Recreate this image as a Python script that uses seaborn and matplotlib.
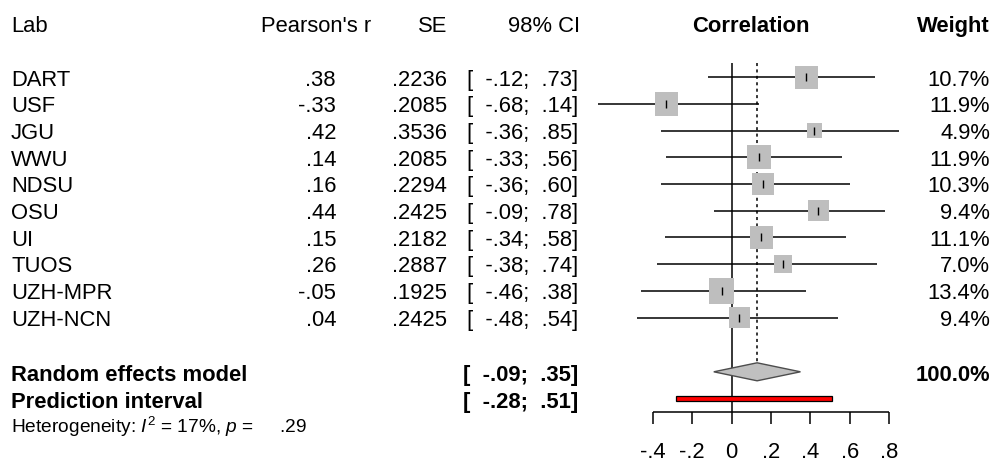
import numpy as np
import pandas as pd
import matplotlib
matplotlib.use("Agg")
import matplotlib.pyplot as plt
import seaborn as sns

# ---- study data -------------------------------------------------------
labs = ["DART", "USF", "JGU", "WWU", "NDSU", "OSU", "UI", "TUOS", "UZH-MPR", "UZH-NCN"]
r_vals = [0.38, -0.33, 0.42, 0.14, 0.16, 0.44, 0.15, 0.26, -0.05, 0.04]
se_vals = [0.2236, 0.2085, 0.3536, 0.2085, 0.2294, 0.2425, 0.2182, 0.2887, 0.1925, 0.2425]
ci_lo = [-0.12, -0.68, -0.36, -0.33, -0.36, -0.09, -0.34, -0.38, -0.46, -0.48]
ci_hi = [0.73, 0.14, 0.85, 0.56, 0.60, 0.78, 0.58, 0.74, 0.38, 0.54]
weights = [10.7, 11.9, 4.9, 11.9, 10.3, 9.4, 11.1, 7.0, 13.4, 9.4]

# ---- pooled results ---------------------------------------------------
re_est = 0.13
re_lo, re_hi = -0.09, 0.35
pi_lo, pi_hi = -0.28, 0.51
i2_text = "17%"
p_text = ".29"

x_ticks = [-0.4, -0.2, 0.0, 0.2, 0.4, 0.6, 0.8]
x_tick_labels = ["-.4", "-.2", "0", ".2", ".4", ".6", ".8"]

columns = ["Lab", "Pearson's r", "SE", "98% CI", "Correlation", "Weight"]


def fmt_r(v):
    s = f"{v:.2f}"
    return s.replace("0.", ".", 1)


def fmt_ci(lo, hi):
    return f"[  {fmt_r(lo)};  {fmt_r(hi)}]"


df = pd.DataFrame({
    "lab": labs, "r": r_vals, "se": se_vals,
    "lo": ci_lo, "hi": ci_hi, "w": weights,
})
df["row"] = np.arange(len(df))

# ---- figure -----------------------------------------------------------
sns.set_theme(style="white")
plt.rcParams["font.family"] = ["Liberation Sans", "DejaVu Sans"]
plt.rcParams["mathtext.fontset"] = "custom"
plt.rcParams["mathtext.rm"] = "Liberation Sans"
plt.rcParams["mathtext.it"] = "Liberation Sans:italic"
plt.rcParams["mathtext.bf"] = "Liberation Sans:bold"

W, H, DPI = 996, 463, 100
fig = plt.figure(figsize=(W / DPI, H / DPI), dpi=DPI)
ax = fig.add_axes([0, 0, 1, 1])

# correlation scale: 0 sits at x=731.5 px, 197 px per unit; rows 26.7 px apart
X0, XS = 731.5, 197.0
Y0, YS = 77.3, 26.7
ax.set_xlim(-X0 / XS, (W - X0) / XS)
ax.set_ylim((H - Y0) / YS, -Y0 / YS)
ax.axis("off")


def px(xp):
    """Horizontal pixel position expressed in correlation units."""
    return (xp - X0) / XS


FS = 15.8
FS_SMALL = 13.8
text_kw = dict(fontsize=FS, color="black")

# ---- header -----------------------------------------------------------
hy = -1.71
ax.text(px(11), hy, columns[0], ha="left", va="baseline", **text_kw)
ax.text(px(371), hy, columns[1], ha="right", va="baseline", **text_kw)
ax.text(px(447), hy, columns[2], ha="right", va="baseline", **text_kw)
ax.text(px(580), hy, columns[3], ha="right", va="baseline", **text_kw)
ax.text(px(751), hy, columns[4], ha="center", va="baseline", fontweight="bold", **text_kw)
ax.text(px(990), hy, columns[5], ha="right", va="baseline", fontweight="bold", **text_kw)

# ---- study rows text --------------------------------------------------
for _, row in df.iterrows():
    yb = row["row"] + 0.31
    ax.text(px(11), yb, row["lab"], ha="left", va="baseline", **text_kw)
    ax.text(px(336), yb, fmt_r(row["r"]), ha="right", va="baseline", **text_kw)
    ax.text(px(447), yb, f"{row['se']:.4f}".replace("0.", ".", 1),
            ha="right", va="baseline", **text_kw)
    ax.text(px(578), yb, fmt_ci(row["lo"], row["hi"]), ha="right", va="baseline", **text_kw)
    ax.text(px(990), yb, f"{row['w']:.1f}%", ha="right", va="baseline", **text_kw)

# ---- pooled rows text -------------------------------------------------
re_row, pi_row = 11.03, 12.02
ax.text(px(11), 11.38, "Random effects model", ha="left", va="baseline",
        fontweight="bold", **text_kw)
ax.text(px(578), 11.38, fmt_ci(re_lo, re_hi), ha="right", va="baseline",
        fontweight="bold", **text_kw)
ax.text(px(990), 11.38, f"{sum(weights):.1f}%", ha="right", va="baseline",
        fontweight="bold", **text_kw)
ax.text(px(11), 12.40, "Prediction interval", ha="left", va="baseline",
        fontweight="bold", **text_kw)
ax.text(px(578), 12.40, fmt_ci(pi_lo, pi_hi), ha="right", va="baseline",
        fontweight="bold", **text_kw)
ax.text(px(11), 13.32,
        r"Heterogeneity: $\mathit{I}^{2}$ = " + i2_text + r", $\mathit{p}$ =     " + p_text,
        ha="left", va="baseline", fontsize=FS_SMALL, color="black")

# ---- forest graphics --------------------------------------------------
LW = 1.1
axis_row = 12.52
top_row = -0.52

# confidence intervals
ax.hlines(df["row"], df["lo"], df["hi"], color="black", lw=LW, zorder=1)

# null line and pooled-estimate line
ax.vlines(0, top_row, axis_row, color="black", lw=LW, zorder=1)
diamond_h = 0.337
ax.vlines(re_est, top_row, re_row - diamond_h, color="black", lw=LW,
          linestyles=(0, (2.0, 2.2)), zorder=1)

# study squares, area proportional to weight
side_pt_per_sqrt_w = 6.9 * 72 / DPI
sns.scatterplot(data=df, x="r", y="row", size="w", marker="s",
                sizes=(0, side_pt_per_sqrt_w ** 2 * 100), size_norm=(0, 100),
                color="#bebebe", edgecolor="none", linewidth=0,
                legend=False, ax=ax, zorder=2)
sns.scatterplot(data=df, x="r", y="row", marker="|", s=30, color="black",
                linewidth=1.0, legend=False, ax=ax, zorder=3)

# pooled diamond
ax.fill([re_lo, re_est, re_hi, re_est],
        [re_row, re_row - diamond_h, re_row, re_row + diamond_h],
        facecolor="#c0c0c0", edgecolor="#4d4d4d", lw=1.0, zorder=2)

# prediction interval bar
pi_h = 0.085
ax.fill([pi_lo, pi_hi, pi_hi, pi_lo],
        [pi_row - pi_h, pi_row - pi_h, pi_row + pi_h, pi_row + pi_h],
        facecolor="red", edgecolor="black", lw=0.9, zorder=2)

# x axis
ax.hlines(axis_row, x_ticks[0], x_ticks[-1], color="black", lw=LW)
ax.vlines(x_ticks, axis_row, 13.0, color="black", lw=LW)
for t, lab in zip(x_ticks, x_tick_labels):
    ax.text(t, 14.25, lab, ha="center", va="baseline", **text_kw)

ax.set_xlabel("")
ax.set_ylabel("")
fig.savefig("out.png", dpi=DPI, facecolor="white")
